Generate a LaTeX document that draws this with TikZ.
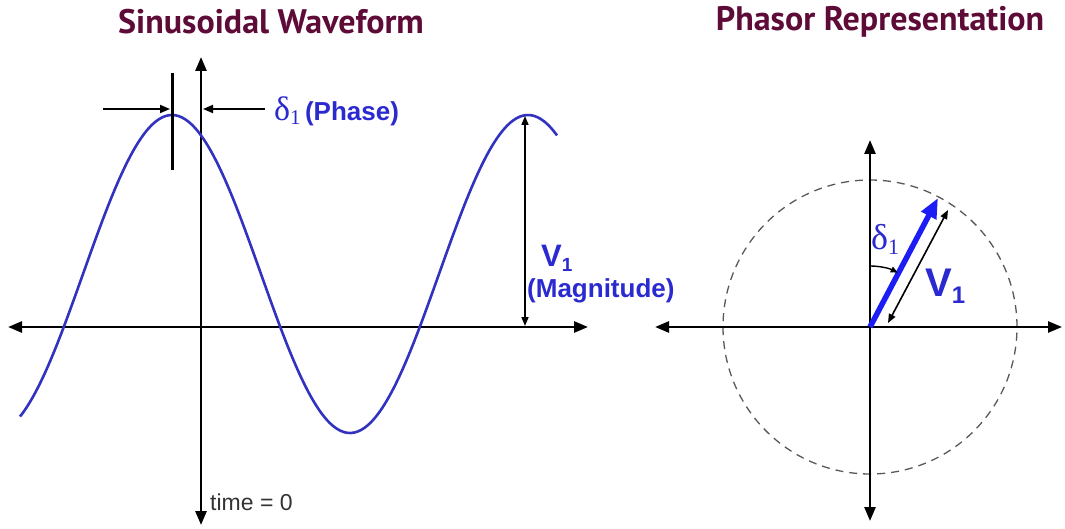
\documentclass[tikz,border=0pt]{standalone}
\usepackage{fontspec}
\setmainfont{Liberation Sans}
\newfontfamily\titlefont{PT Sans}
\newfontfamily\serifgr{Liberation Serif}
\usetikzlibrary{arrows.meta}
\definecolor{titlecol}{HTML}{5E0B38}
\definecolor{wavecol}{HTML}{3232C0}
\definecolor{txtblue}{HTML}{2A2AD0}
\definecolor{phasorblue}{HTML}{1C1CF5}
\definecolor{timegray}{HTML}{333333}
\tikzset{
  axis/.style={line width=2.6pt,{Triangle[length=14pt,width=11pt]}-{Triangle[length=14pt,width=11pt]}},
  thinarrow/.style={line width=1.6pt,{Triangle[length=9pt,width=7pt]}-{Triangle[length=9pt,width=7pt]}},
  phasearrow/.style={line width=1.8pt,-{Triangle[length=10pt,width=8pt]}},
  wave/.style={line width=2.6pt,wavecol},
  titletxt/.style={font=\titlefont\bfseries\fontsize{34}{38}\selectfont,text=titlecol,inner sep=0pt},
  bluetxt/.style={font=\bfseries\fontsize{26}{30}\selectfont,text=txtblue,inner sep=0pt},
}
\begin{document}
\begin{tikzpicture}[x=1pt,y=1pt]
\useasboundingbox[fill=white] (0,0) rectangle (1065,-529);
% titles
\node[titletxt] (t1) at (271,-22) {Sinusoidal Waveform};
\node[titletxt] (t2) at (880,-22) {Phasor Representation};
% left axes
\coordinate (hl) at (8,-327);
\coordinate (hr) at (588,-327);
\coordinate (vt) at (201,-57);
\coordinate (vb) at (201,-525);
\draw[axis] (hl) -- (hr);
\draw[axis] (vb) -- (vt);
% sine wave
\draw[wave,line join=round] plot[domain=20:557,samples=160,smooth] (\x,{-274+159*cos((\x-172)*1.011236)});
% phase marker
\coordinate (mt) at (172,-73);
\coordinate (mb) at (172,-170);
\draw[line width=3pt] (mt) -- (mb);
\coordinate (pa1) at (103,-109);
\coordinate (pa2) at (170,-109);
\coordinate (pb1) at (265,-109);
\coordinate (pb2) at (203,-109);
\draw[phasearrow] (pa1) -- (pa2);
\draw[phasearrow] (pb1) -- (pb2);
\node[bluetxt,anchor=base west] (phase) at (274,-121) {{\serifgr\mdseries\fontsize{34}{36}\selectfont δ\raisebox{-0.25ex}{\fontsize{21}{22}\selectfont 1}}\,(Phase)};
% magnitude
\coordinate (m1) at (525,-116);
\coordinate (m2) at (525,-326);
\draw[thinarrow] (m1) -- (m2);
\node[bluetxt,anchor=base west,font=\bfseries\fontsize{31}{33}\selectfont] (v1l) at (541,-266) {V\raisebox{-0.35ex}{\fontsize{19}{20}\selectfont 1}};
\node[bluetxt,anchor=base west] (mag) at (527,-298) {(Magnitude)};
% time label
\node[anchor=base west,inner sep=0pt,text=timegray,font=\fontsize{23}{25}\selectfont] (time) at (210,-510) {time = 0};
% phasor diagram
\coordinate (O) at (870,-327);
\draw[dashed,line width=1.3pt,gray!70!black,dash pattern=on 8pt off 6pt] (O) circle[radius=147];
\coordinate (rl) at (655,-327);
\coordinate (rr) at (1062,-327);
\coordinate (rt) at (870,-140);
\coordinate (rb) at (870,-521);
\draw[axis] (rl) -- (rr);
\draw[axis] (rb) -- (rt);
\coordinate (P) at (938,-198);
\draw[line width=5.5pt,phasorblue,-{Triangle[length=20pt,width=16pt]}] (O) -- (P);
\coordinate (d1) at (888,-323);
\coordinate (d2) at (948,-210);
\draw[thinarrow] (d1) -- (d2);
\coordinate (a0) at (870,-266);
\draw[line width=1.4pt,-{Triangle[length=7pt,width=6pt]}] (a0) arc[start angle=90,end angle=63,radius=61];
\node[anchor=base west,inner sep=0pt,text=txtblue,font=\serifgr\fontsize{36}{38}\selectfont] (dl) at (871,-250) {δ\raisebox{-0.25ex}{\fontsize{22}{24}\selectfont 1}};
\node[anchor=base west,inner sep=0pt,text=txtblue,font=\bfseries\fontsize{40}{42}\selectfont] (v1r) at (925,-297) {V\raisebox{-0.3ex}{\fontsize{24}{26}\selectfont 1}};
\end{tikzpicture}
\end{document}
